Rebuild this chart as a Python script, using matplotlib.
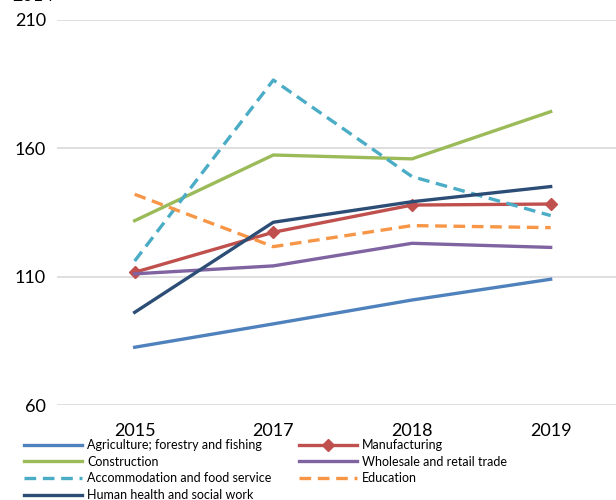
import matplotlib.pyplot as plt

years = ["2015", "2017", "2018", "2019"]

agriculture = [82.5, 91.6, 100.9, 109.0]
manufacturing = [111.7, 127.3, 137.9, 138.3]
construction = [131.8, 157.4, 155.9, 174.3]
accommodation = [116.1, 186.6, 149.0, 133.8]
wholesale = [111.1, 114.2, 123.0, 121.4]
education = [142.1, 121.7, 129.9, 129.1]
health = [96.1, 131.2, 139.2, 145.1]

plt.rcParams["font.family"] = ["Lato", "DejaVu Sans"]

fig = plt.figure(figsize=(6.16, 5.0), dpi=100)
ax = fig.add_axes([57 / 616, 95 / 500, 563 / 616, 385 / 500])

x = range(len(years))
lw = 2.4
dash = (3.5, 2)

series = {}
series["agri"], = ax.plot(x, agriculture, color="#4F81BD", lw=lw,
                          label="Agriculture; forestry and fishing")
series["manu"], = ax.plot(x, manufacturing, color="#C0504D", lw=lw, marker="D",
                          markersize=6, label="Manufacturing")
series["cons"], = ax.plot(x, construction, color="#9BBB59", lw=lw,
                          label="Construction")
series["whol"], = ax.plot(x, wholesale, color="#8064A2", lw=lw,
                          label="Wholesale and retail trade")
series["acco"], = ax.plot(x, accommodation, color="#4BACC6", lw=lw,
                          dashes=dash, label="Accommodation and food service")
series["educ"], = ax.plot(x, education, color="#F79646", lw=lw,
                          dashes=dash, label="Education")
series["heal"], = ax.plot(x, health, color="#2C4D75", lw=lw,
                          label="Human health and social work")

ax.set_xlim(-0.56, 3.5)
ax.set_ylim(60, 210)
ax.set_yticks([60, 110, 160, 210])
ax.set_xticks(list(x))
ax.set_xticklabels(years)
ax.yaxis.grid(True, color="#D9D9D9", lw=1.2)
ax.set_axisbelow(True)
for s in ax.spines.values():
    s.set_visible(False)
ax.tick_params(axis="both", length=0, labelsize=13, colors="black")
ax.tick_params(axis="x", pad=13)
ax.tick_params(axis="y", pad=8)

# legend filled column-wise, so order entries to read row by row
order = ["agri", "cons", "acco", "heal", "manu", "whol", "educ"]
handles = [series[k] for k in order]
fig.legend(handles, [h.get_label() for h in handles], ncol=2,
           loc="upper left", bbox_to_anchor=(24 / 616, 1 - 439 / 500),
           frameon=False, fontsize=9, handlelength=4.6, handletextpad=0.45,
           columnspacing=2.2, labelspacing=0.38, borderpad=0, borderaxespad=0)

fig.text(12 / 616, 1 - 4 / 500, "2014", fontsize=13, va="bottom")

plt.savefig("out.png", dpi=100)
